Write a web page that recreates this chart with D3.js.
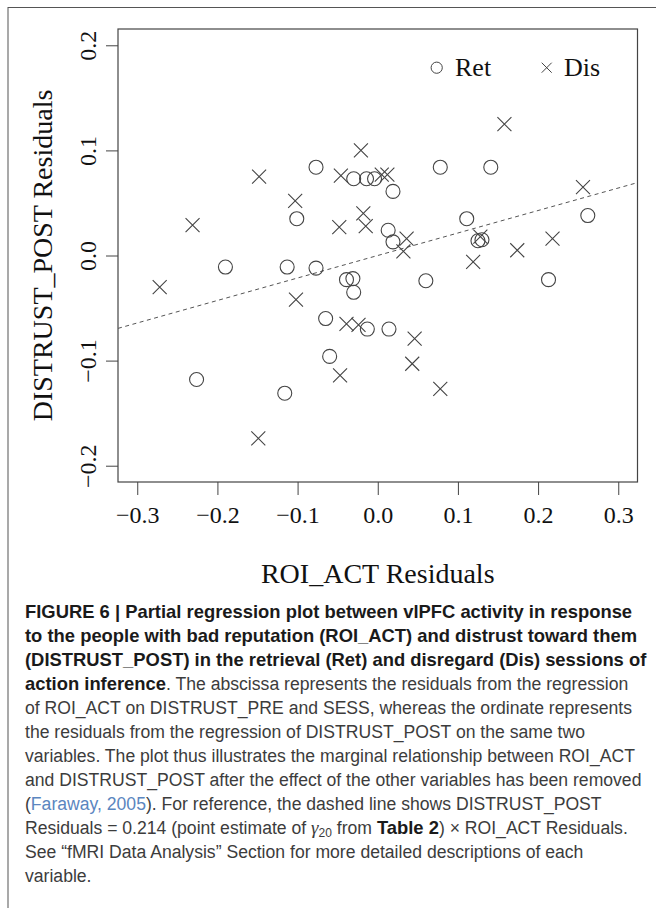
<!DOCTYPE html>
<html>
<head>
<meta charset="utf-8">
<script src="https://cdn.jsdelivr.net/npm/d3@7"></script>
<style>
  html, body { margin: 0; padding: 0; background: #fff; }
  svg { display: block; }
</style>
</head>
<body>
<svg id="chart" width="656" height="908"></svg>
<script>
// ---- data ----
const retX = [-0.077, -0.030, -0.014, -0.004, 0.078, 0.141, 0.019, -0.101, 0.111, 0.262,
              0.013, 0.019, 0.125, 0.130, -0.190, -0.113, -0.077, -0.039, -0.031, -0.030,
              0.060, 0.213, -0.065, -0.013, 0.014, -0.060, -0.226, -0.116];
const retY = [0.084, 0.073, 0.073, 0.073, 0.084, 0.084, 0.061, 0.035, 0.035, 0.038,
              0.024, 0.013, 0.014, 0.015, -0.011, -0.011, -0.012, -0.023, -0.022, -0.035,
              -0.024, -0.023, -0.060, -0.070, -0.070, -0.096, -0.118, -0.131];
const disX = [0.158, -0.021, -0.148, -0.046, 0.005, 0.012, 0.256, -0.103, -0.018, -0.231,
              -0.048, -0.015, 0.036, 0.032, 0.128, 0.174, 0.218, 0.119, -0.272, -0.102,
              -0.039, -0.024, 0.046, 0.043, 0.078, -0.047, -0.149];
const disY = [0.125, 0.100, 0.075, 0.076, 0.077, 0.077, 0.065, 0.052, 0.040, 0.029,
              0.027, 0.028, 0.016, 0.004, 0.018, 0.005, 0.016, -0.006, -0.030, -0.042,
              -0.065, -0.066, -0.079, -0.103, -0.127, -0.114, -0.174];
const slope = 0.214;
const xTicks = [-0.3, -0.2, -0.1, 0.0, 0.1, 0.2, 0.3];
const yTicks = [-0.2, -0.1, 0.0, 0.1, 0.2];
const xLabel = "ROI_ACT Residuals";
const yLabel = "DISTRUST_POST Residuals";
const legendLabels = ["Ret", "Dis"];

const captionLines = [
  [{t: "FIGURE 6 | Partial regression plot between vlPFC activity in response", b: true}],
  [{t: "to the people with bad reputation (ROI_ACT) and distrust toward them", b: true}],
  [{t: "(DISTRUST_POST) in the retrieval (Ret) and disregard (Dis) sessions of", b: true}],
  [{t: "action inference", b: true}, {t: ". The abscissa represents the residuals from the regression"}],
  [{t: "of ROI_ACT on DISTRUST_PRE and SESS, whereas the ordinate represents"}],
  [{t: "the residuals from the regression of DISTRUST_POST on the same two"}],
  [{t: "variables. The plot thus illustrates the marginal relationship between ROI_ACT"}],
  [{t: "and DISTRUST_POST after the effect of the other variables has been removed"}],
  [{t: "("}, {t: "Faraway, 2005", link: true}, {t: "). For reference, the dashed line shows DISTRUST_POST"}],
  [{t: "Residuals = 0.214 (point estimate of "}, {t: "γ", it: true}, {t: "20", sub: true},
   {t: " from "}, {t: "Table 2", b: true}, {t: ") × ROI_ACT Residuals."}],
  [{t: "See “fMRI Data Analysis” Section for more detailed descriptions of each"}],
  [{t: "variable."}]
];

// ---- drawing ----
const svg = d3.select("#chart");
const box = {l: 118, r: 637.5, t: 29, b: 482};
const x = d3.scaleLinear().domain([-0.324, 0.324]).range([box.l, box.r]);
const y = d3.scaleLinear().domain([-0.2155, 0.2155]).range([box.b, box.t]);
const ink = "#444";
const serif = "'Liberation Serif', 'Times New Roman', serif";

// outer frame
svg.append("rect").attr("x", 8).attr("y", 7.5).attr("width", 700).attr("height", 960)
  .attr("fill", "none").attr("stroke", "#555").attr("stroke-width", 1);

// axes
const xAxis = d3.axisBottom(x).tickValues(xTicks).tickFormat(d3.format(".1f")).tickSize(13).tickPadding(10);
const yAxis = d3.axisLeft(y).tickValues(yTicks).tickFormat(d3.format(".1f")).tickSize(12).tickPadding(8);

const gx = svg.append("g").attr("transform", `translate(0,${box.b})`).call(xAxis);
gx.select(".domain").remove();
gx.selectAll("line").attr("stroke", ink);
gx.selectAll("text").attr("font-family", serif).attr("font-size", 24).attr("fill", "#111")
  .attr("dy", null).attr("y", 41);

const gy = svg.append("g").attr("transform", `translate(${box.l},0)`).call(yAxis);
gy.select(".domain").remove();
gy.selectAll("line").attr("stroke", ink);
gy.selectAll("text").attr("font-family", serif).attr("font-size", 24).attr("fill", "#111")
  .attr("text-anchor", "middle").attr("dy", null).attr("x", null)
  .attr("transform", "translate(-22,0) rotate(-90)").attr("y", 0);

// box
svg.append("rect").attr("x", box.l).attr("y", box.t)
  .attr("width", box.r - box.l).attr("height", box.b - box.t)
  .attr("fill", "none").attr("stroke", ink).attr("stroke-width", 1.2);

// axis titles
svg.append("text").attr("x", (box.l + box.r) / 2).attr("y", 583)
  .attr("text-anchor", "middle").attr("font-family", serif).attr("font-size", 28).attr("fill", "#111")
  .text(xLabel);
svg.append("text").attr("transform", `translate(52,${(box.t + box.b) / 2}) rotate(-90)`)
  .attr("text-anchor", "middle").attr("font-family", serif).attr("font-size", 28).attr("fill", "#111")
  .text(yLabel);

// regression line (clipped to box)
svg.append("clipPath").attr("id", "clip").append("rect")
  .attr("x", box.l).attr("y", box.t).attr("width", box.r - box.l).attr("height", box.b - box.t);
const xd = x.domain();
svg.append("line").attr("clip-path", "url(#clip)")
  .attr("x1", x(xd[0])).attr("y1", y(slope * xd[0]))
  .attr("x2", x(xd[1])).attr("y2", y(slope * xd[1]))
  .attr("stroke", "#555").attr("stroke-width", 1).attr("stroke-dasharray", "4,3.5");

// points
const ret = retX.map((v, i) => ({x: v, y: retY[i]}));
const dis = disX.map((v, i) => ({x: v, y: disY[i]}));
svg.append("g").selectAll("circle").data(ret).join("circle")
  .attr("cx", d => x(d.x)).attr("cy", d => y(d.y)).attr("r", 7)
  .attr("fill", "none").attr("stroke", ink).attr("stroke-width", 1.1);
const s = 7;
svg.append("g").selectAll("path").data(dis).join("path")
  .attr("d", d => {
    const cx = x(d.x), cy = y(d.y);
    return `M${cx - s},${cy - s}L${cx + s},${cy + s}M${cx - s},${cy + s}L${cx + s},${cy - s}`;
  })
  .attr("fill", "none").attr("stroke", ink).attr("stroke-width", 1.1);

// legend
const lg = svg.append("g");
lg.append("circle").attr("cx", 436.7).attr("cy", 67.7).attr("r", 5.6)
  .attr("fill", "none").attr("stroke", ink).attr("stroke-width", 1);
lg.append("text").attr("x", 455).attr("y", 76).attr("font-family", serif).attr("font-size", 26)
  .attr("fill", "#111").text(legendLabels[0]);
const ls = 5, lx = 546.7, ly = 67.7;
lg.append("path").attr("d", `M${lx - ls},${ly - ls}L${lx + ls},${ly + ls}M${lx - ls},${ly + ls}L${lx + ls},${ly - ls}`)
  .attr("stroke", ink).attr("stroke-width", 1);
lg.append("text").attr("x", 564).attr("y", 76).attr("font-family", serif).attr("font-size", 26)
  .attr("fill", "#111").text(legendLabels[1]);

// caption
const cap = svg.append("g").attr("font-family", "'Liberation Sans', Arial, Helvetica, sans-serif")
  .attr("font-size", 17.6);
captionLines.forEach((segs, i) => {
  const t = cap.append("text").attr("x", 25).attr("y", 618 + i * 24);
  segs.forEach(sg => {
    const ts = t.append("tspan").text(sg.t)
      .attr("fill", sg.b ? "#1a1a1a" : (sg.link ? "#5b86c0" : "#3c3c3c"))
      .attr("font-weight", sg.b ? "bold" : null);
    if (sg.b) ts.attr("font-size", 18.4);
    if (sg.it) ts.attr("font-style", "italic").attr("font-family", serif).attr("font-size", 19);
    if (sg.sub) ts.attr("baseline-shift", "-2.5px").attr("font-size", 12);
  });
});
</script>
</body>
</html>
